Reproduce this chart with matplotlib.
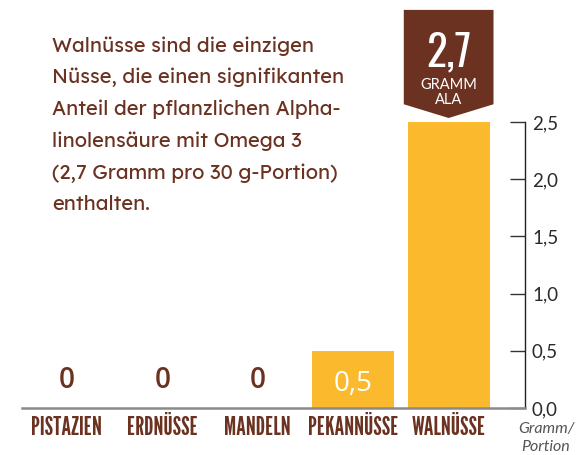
import matplotlib
matplotlib.use("Agg")
import matplotlib.pyplot as plt
from matplotlib.patches import Polygon

categories = ["PISTAZIEN", "ERDNÜSSE", "MANDELN", "PEKANNÜSSE", "WALNÜSSE"]
values = [0, 0, 0, 0.5, 2.5]
value_labels = ["0", "0", "0", "0,5", ""]
yticks = [0.0, 0.5, 1.0, 1.5, 2.0, 2.5]
ytick_labels = ["0,0", "0,5", "1,0", "1,5", "2,0", "2,5"]
badge_value = "2,7"
badge_unit = ["GRAMM", "ALA"]
headline = ("Walnüsse sind die einzigen\nNüsse, die einen signifikanten\n"
            "Anteil der pflanzlichen Alpha-\nlinolensäure mit Omega 3\n"
            "(2,7 Gramm pro 30 g-Portion)\nenthalten.")

BROWN = "#6B3221"
YELLOW = "#FBBA2E"
W, H = 579, 455

fig = plt.figure(figsize=(W/100, H/100), dpi=100)
ax = fig.add_axes([22/W, 47/H, (525-22)/W, (408-122)/H])

x = list(range(len(categories)))
ax.bar(x, values, width=0.86, color=YELLOW, zorder=2)
ax.set_xlim(-0.47, 4.80)
ax.set_ylim(0, 2.5)

for s in ["top", "left"]:
    ax.spines[s].set_visible(False)
ax.spines["bottom"].set_color("#8a8a8a")
ax.spines["bottom"].set_linewidth(1.8)
ax.spines["right"].set_color("#222222")
ax.spines["right"].set_linewidth(1.0)
ax.yaxis.tick_right()
ax.set_yticks(yticks)
ax.set_yticklabels(ytick_labels)
ax.tick_params(axis="y", direction="in", length=11, width=1.0, color="#333333",
               labelsize=13.5, labelcolor="#2a2a2a", pad=5)
for t in ax.get_yticklabels():
    t.set_family(["Lato", "DejaVu Sans"])
    t.set_fontweight("normal")

ax.set_xticks(x)
ax.set_xticklabels(categories)
ax.tick_params(axis="x", length=0, pad=6, labelsize=18, labelcolor=BROWN)
for t in ax.get_xticklabels():
    t.set_family(["League Gothic", "Oswald", "DejaVu Sans"])

for xi, v, lab in zip(x, values, value_labels):
    if not lab:
        continue
    if v == 0:
        ax.text(xi, 0.11, lab, ha="center", va="bottom", color=BROWN,
                fontsize=20, fontweight=600, family=["Open Sans", "DejaVu Sans"])
    else:
        ax.text(xi, v/2 - 0.16, lab, ha="center", va="bottom", color="white",
                fontsize=20, family=["Open Sans", "DejaVu Sans"])

# badge above walnut bar
bx = x[-1]
top_v = values[-1]
hw = 0.47
poly = Polygon([(bx-hw, top_v+0.98), (bx+hw, top_v+0.98), (bx+hw, top_v+0.155),
                (bx, top_v+0.035), (bx-hw, top_v+0.155)], closed=True,
               facecolor=BROWN, edgecolor="none", clip_on=False, zorder=3)
ax.add_patch(poly)
ax.text(bx, top_v+0.60, badge_value, ha="center", va="center", color="white",
        fontsize=31, family=["Oswald", "DejaVu Sans"], clip_on=False, zorder=4)
ax.text(bx, top_v+0.325, badge_unit[0], ha="center", va="center", color="white",
        fontsize=10.5, family=["Lato", "DejaVu Sans"], clip_on=False, zorder=4)
ax.text(bx, top_v+0.195, badge_unit[1], ha="center", va="center", color="white",
        fontsize=10.5, family=["Lato", "DejaVu Sans"], clip_on=False, zorder=4)

fig.text(52/W, 1-36/H, headline, ha="left", va="top", color=BROWN,
         fontsize=14.5, fontweight=600, family=["Lexend", "Lato", "DejaVu Sans"],
         linespacing=1.8)

fig.text(546/W, 1-438/H, "Gramm/\nPortion", ha="center", va="center",
         color="#555555", fontsize=11.5, style="italic",
         family=["Lato", "DejaVu Sans"], linespacing=1.3)

fig.savefig("out.png", dpi=100)
